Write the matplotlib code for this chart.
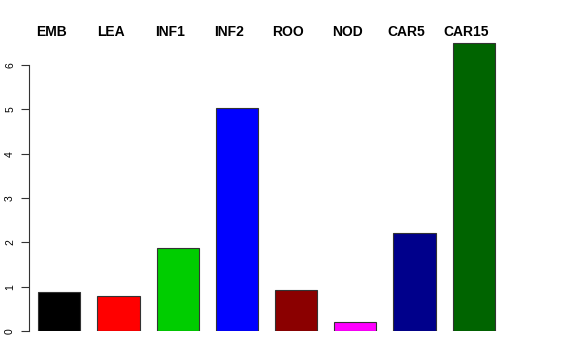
import numpy as np
import matplotlib.pyplot as plt

plt.rcParams['font.family'] = ['Liberation Sans', 'DejaVu Sans']

labels = ["EMB", "LEA", "INF1", "INF2", "ROO", "NOD", "CAR5", "CAR15"]
values = [0.87, 0.80, 1.87, 5.04, 0.92, 0.20, 2.20, 6.49]
colors = ["black", "red", "#00CD00", "blue", "#8B0000", "magenta", "#00008B", "#006400"]

W, H = 576, 360
fig = plt.figure(figsize=(W / 100, H / 100), dpi=100)
ax = fig.add_axes([29 / W, 1 - 331 / H, (547 - 29) / W, (331 - 40) / H])

x = np.arange(len(labels))
ax.bar(x, values, width=0.71, color=colors, edgecolor="#333333", linewidth=0.8)

ax.set_xlim((29 - 59.3) / 59.2, (547 - 59.3) / 59.2)
ax.set_ylim(0, (331 - 40) / 44.33)

for s in ["top", "right", "bottom"]:
    ax.spines[s].set_visible(False)
ax.spines["left"].set_bounds(0, 6)
ax.spines["left"].set_color("#333333")

ax.set_yticks(range(7))
ax.tick_params(axis="y", length=6, labelsize=7.5, pad=4, color="#333333")
for t in ax.get_yticklabels():
    t.set_rotation(90)
    t.set_va("center")

# group labels sit a little left of the bar centres, as in the original
ax.xaxis.tick_top()
ax.set_xticks(x - 0.135)
ax.set_xticklabels(labels, fontweight="bold", fontsize=10)
ax.tick_params(axis="x", length=0, pad=1)

fig.savefig("out.png", dpi=100)
